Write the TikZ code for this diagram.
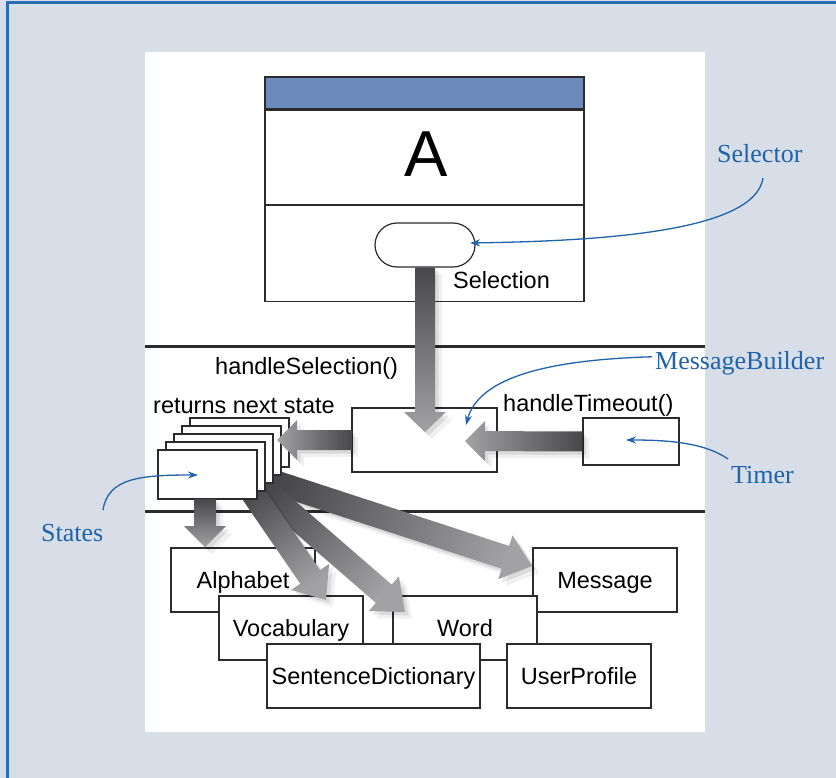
\documentclass[tikz,border=0pt]{standalone}
\usepackage{fontspec}
\setmainfont{Liberation Sans}
\newfontfamily\lblfont{Liberation Serif}
\usetikzlibrary{calc,shapes.misc,arrows.meta}
\definecolor{bgc}{HTML}{D7DEE8}
\definecolor{frameblue}{HTML}{2A6DB5}
\definecolor{hdr}{HTML}{6C8BBA}
\definecolor{lbl}{HTML}{1F63AB}
\definecolor{adark}{HTML}{48484B}
\definecolor{alight}{HTML}{A2A2A5}
\definecolor{edge}{HTML}{2B2B2B}
\newcommand{\fatarrow}[6]{%
  \coordinate (fa-h) at ($(#2)!#5!(#1)$);
  \fill[black,opacity=0.06,transform canvas={xshift=7pt,yshift=-7pt}]
    ($(#1)!#3!90:(#2)$) -- ($(fa-h)!#3!90:(#2)$) -- ($(fa-h)!#4!90:(#2)$) -- (#2) -- ($(fa-h)!#4!-90:(#2)$) -- ($(fa-h)!#3!-90:(#2)$) -- ($(#1)!#3!-90:(#2)$) -- cycle;
  \fill[black,opacity=0.09,transform canvas={xshift=3.5pt,yshift=-3.5pt}]
    ($(#1)!#3!90:(#2)$) -- ($(fa-h)!#3!90:(#2)$) -- ($(fa-h)!#4!90:(#2)$) -- (#2) -- ($(fa-h)!#4!-90:(#2)$) -- ($(fa-h)!#3!-90:(#2)$) -- ($(#1)!#3!-90:(#2)$) -- cycle;
  \shade[top color=alight,bottom color=adark,shading angle=#6]
    ($(#1)!#3!90:(#2)$) -- ($(fa-h)!#3!90:(#2)$) -- ($(fa-h)!#4!90:(#2)$) -- (#2) -- ($(fa-h)!#4!-90:(#2)$) -- ($(fa-h)!#3!-90:(#2)$) -- ($(#1)!#3!-90:(#2)$) -- cycle;
}
\tikzset{
  box/.style={draw=edge,line width=1.2pt,fill=white,inner sep=0pt},
  txt/.style={font=\fontsize{23.5}{28}\selectfont,text=black,inner sep=0pt},
  boxtxt/.style={box,font=\fontsize{23.5}{28}\selectfont,text height=16.5pt,text depth=0pt},
  bluelbl/.style={font=\lblfont\fontsize{26}{30}\selectfont,text=lbl,inner sep=0pt},
  bluearrow/.style={draw=lbl,line width=1.3pt,-{Stealth[length=10pt,width=7pt]}},
  sepline/.style={draw=edge,line width=3pt}
}
\begin{document}
\begin{tikzpicture}[x=1pt,y=-1pt]
\useasboundingbox (0,0) rectangle (836,778);
\fill[bgc] (0,0) rectangle (836,778);
\draw[frameblue,line width=3pt] (7,778) -- (7,3) -- (836,3);
\fill[white] (145,52) rectangle (705,732);

% separators
\draw[sepline] (145,346) -- (705,346);
\draw[sepline] (145,511) -- (705,511);

% box A
\node[box,fill=hdr,minimum width=319pt,minimum height=32pt] (hdr) at (424.5,93) {};
\node[box,minimum width=319pt,minimum height=191pt,anchor=north] (boxA) at (hdr.south) {};
\draw[edge,line width=1.2pt] (boxA.west |- 0,205) -- (boxA.east |- 0,205);
\node[font=\fontsize{65}{65}\selectfont,inner sep=0pt] (letterA) at (426,154) {A};
\node[draw=edge,line width=1.2pt,fill=white,rounded rectangle,minimum width=100pt,minimum height=44pt,inner sep=0pt] (pill) at (425,245) {};
\node[txt,anchor=base west] (seltxt) at (453,289) {Selection};

% bottom boxes
\node[boxtxt,minimum width=144pt,minimum height=64pt] (message) at (605,580) {Message};
\node[boxtxt,minimum width=144pt,minimum height=64pt] (alphabet) at (243,580) {Alphabet};
\node[boxtxt,minimum width=144pt,minimum height=64pt] (word) at (465,628) {Word};
\node[boxtxt,minimum width=144pt,minimum height=64pt] (vocab) at (291,628) {Vocabulary};
\node[boxtxt,minimum width=213pt,minimum height=64pt] (sentdict) at (373.5,676) {SentenceDictionary};
\node[boxtxt,minimum width=144pt,minimum height=64pt] (userprof) at (579,676) {UserProfile};

% middle boxes
\node[box,minimum width=145pt,minimum height=64pt] (mb) at (424.5,440) {};
\node[box,minimum width=96pt,minimum height=47pt] (timer) at (631,441.5) {};
\node[txt,anchor=base west] (hsel) at (215,374) {handleSelection()};
\node[txt,anchor=base west] (ret) at (153,413) {returns next state};
\node[txt,anchor=base west] (htime) at (503,411) {handleTimeout()};

% fan arrows (under the state stack)
\coordinate (fv0) at (245,482); \coordinate (fv1) at (326,600);
\coordinate (fw0) at (255,482); \coordinate (fw1) at (405,612);
\coordinate (fm0) at (262,478); \coordinate (fm1) at (532,566);
\fatarrow{fm0}{fm1}{12pt}{23pt}{28pt}{-108}
\fatarrow{fw0}{fw1}{12pt}{23pt}{28pt}{-130.9}
\fatarrow{fv0}{fv1}{12pt}{23pt}{28pt}{-145.5}

% state stack
\node[box,minimum width=99pt,minimum height=49pt] (st4) at (239.5,442.5) {};
\node[box,minimum width=99pt,minimum height=49pt] (st3) at (231.5,450.5) {};
\node[box,minimum width=99pt,minimum height=49pt] (st2) at (223.5,458.5) {};
\node[box,minimum width=99pt,minimum height=49pt] (st1) at (215.5,466.5) {};
\node[box,minimum width=99pt,minimum height=49pt] (st0) at (207.5,474.5) {};

% gray arrows
\coordinate (mbTop) at (425,432);
\fatarrow{pill.south}{mbTop}{10pt}{21pt}{20pt}{-180}
\coordinate (mbIn) at (465,441);
\fatarrow{timer.west}{mbIn}{10pt}{20pt}{20pt}{90}
\coordinate (stIn) at (277,440);
\fatarrow{mb.west}{stIn}{10pt}{20pt}{20pt}{90}
\coordinate (alS) at (205,499); \coordinate (alT) at (205,547);
\fatarrow{alS}{alT}{11pt}{21pt}{21pt}{-180}

% blue labels
\node[bluelbl,anchor=base west] (selector) at (717,163) {Selector};
\node[bluelbl,anchor=base west] (msgb) at (655,370) {MessageBuilder};
\node[bluelbl,anchor=base west] (timerlbl) at (731,483) {Timer};
\node[bluelbl,anchor=base west] (states) at (41,541) {States};
\coordinate (selEnd) at (470,243);
\coordinate (mbEnd) at (466,425);
\coordinate (tmEnd) at (626,440);
\coordinate (stEnd) at (198,475);
\draw[bluearrow] (763,178) .. controls (755,232) and (600,241) .. (selEnd);
\draw[bluearrow] (msgb.west) ++(-3,-7) .. controls (540,360) and (478,380) .. (mbEnd);
\draw[bluearrow] (728,459) .. controls (705,443) and (670,440) .. (tmEnd);
\draw[bluearrow] (103,510) .. controls (108,478) and (140,475) .. (stEnd);
\end{tikzpicture}
\end{document}
